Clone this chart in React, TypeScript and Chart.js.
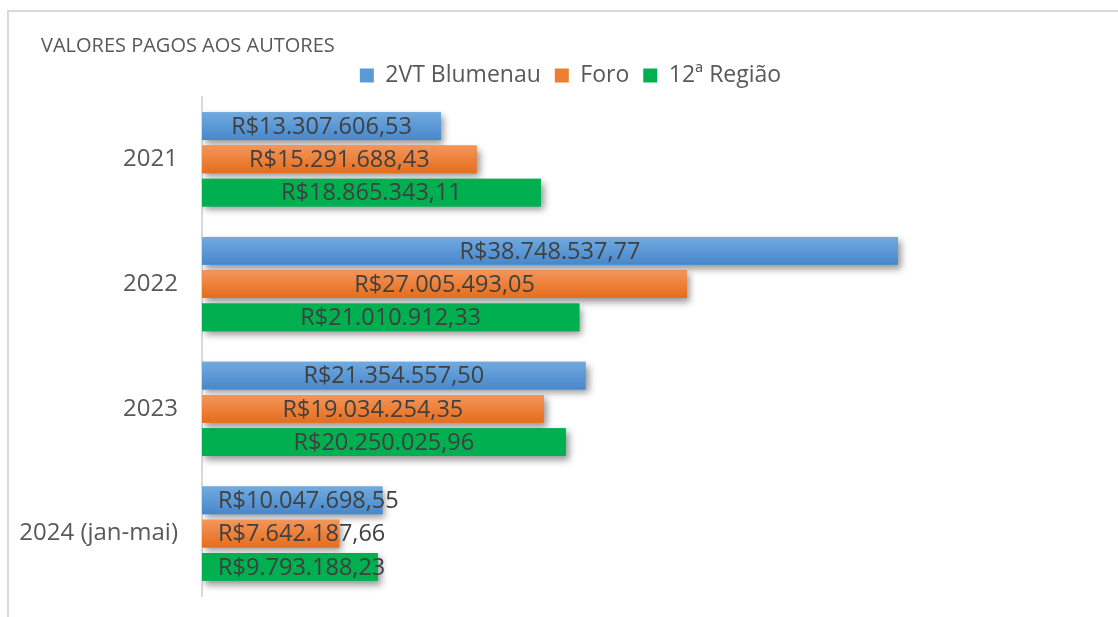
import React, { useEffect, useRef } from "react";
import { Chart, registerables } from "chart.js";

Chart.register(...registerables);

const titleText = "VALORES PAGOS AOS AUTORES";
const categories = ["2021", "2022", "2023", "2024 (jan-mai)"];
const seriesNames = ["2VT Blumenau", "Foro", "12ª Região"];
const blumenau = [13307606.53, 38748537.77, 21354557.5, 10047698.55];
const foro = [15291688.43, 27005493.05, 19034254.35, 7642187.66];
const regiao = [18865343.11, 21010912.33, 20250025.96, 9793188.23];
const baseColors = ["#5b9bd5", "#ed7d31", "#00b050"];
const gradTop = ["#70aae0", "#f4955a", "#00b050"];
const gradBottom = ["#4887cb", "#e66d1b", "#00b050"];
const xMax = 50000000;
const FONT = "'Open Sans', 'Noto Sans', sans-serif";

function fmtBRL(v: number): string {
  const fixed = v.toFixed(2);
  const [intPart, dec] = fixed.split(".");
  const withDots = intPart.replace(/\B(?=(\d{3})+(?!\d))/g, ".");
  return "R$" + withDots + "," + dec;
}

const unclipLabels = {
  id: "unclipLabels",
  afterLayout(chart: any) {
    const y = chart.scales.y;
    if (y) y.left = 0;
  },
};

const barStyle = {
  id: "barStyle",
  beforeDatasetsDraw(chart: any) {
    const ctx = chart.ctx;
    ctx.save();
    ctx.shadowColor = "rgba(0,0,0,0.42)";
    ctx.shadowBlur = 7;
    ctx.shadowOffsetX = 3;
    ctx.shadowOffsetY = 4;
  },
  afterDatasetsDraw(chart: any) {
    const ctx = chart.ctx;
    ctx.restore();
    chart.data.datasets.forEach((ds: any, di: number) => {
      const meta = chart.getDatasetMeta(di);
      meta.data.forEach((el: any) => {
        const { x, y, base, height } = el.getProps(["x", "y", "base", "height"], true);
        const top = y - height / 2;
        const g = ctx.createLinearGradient(0, top, 0, top + height);
        g.addColorStop(0, gradTop[di]);
        g.addColorStop(1, gradBottom[di]);
        ctx.fillStyle = g;
        ctx.fillRect(base, top, x - base, height);
      });
    });
    ctx.save();
    ctx.font = "23.5px " + FONT;
    ctx.fillStyle = "#404040";
    ctx.textBaseline = "middle";
    ctx.textAlign = "center";
    chart.data.datasets.forEach((ds: any, di: number) => {
      const meta = chart.getDatasetMeta(di);
      meta.data.forEach((el: any, i: number) => {
        const { x, y, base } = el.getProps(["x", "y", "base"], true);
        const text = fmtBRL(ds.data[i]);
        const w = ctx.measureText(text).width;
        const cx = Math.max((base + x) / 2, base + 16 + w / 2);
        ctx.fillText(text, cx, y + 1);
      });
    });
    ctx.restore();
  },
};

export default function App() {
  const ref = useRef<HTMLCanvasElement | null>(null);

  useEffect(() => {
    if (!ref.current) return;
    const chart = new Chart(ref.current, {
      type: "bar",
      data: {
        labels: categories,
        datasets: [
          { label: seriesNames[0], data: blumenau, backgroundColor: baseColors[0], borderWidth: 0 },
          { label: seriesNames[1], data: foro, backgroundColor: baseColors[1], borderWidth: 0 },
          { label: seriesNames[2], data: regiao, backgroundColor: baseColors[2], borderWidth: 0 },
        ],
      },
      options: {
        indexAxis: "y",
        responsive: false,
        animation: false,
        devicePixelRatio: 1,
        datasets: {
          bar: { categoryPercentage: 0.8, barPercentage: 0.83 },
        },
        layout: { autoPadding: false, padding: { left: 41, right: 18, top: 0, bottom: 21 } },
        scales: {
          x: {
            display: false,
            min: 0,
            max: xMax,
          },
          y: {
            grid: { display: false, drawTicks: false },
            border: { display: true, color: "#d9d9d9", width: 2 },
            ticks: {
              color: "#595959",
              padding: 24,
              font: { family: FONT, size: 24 },
            },
            afterFit: (scale: any) => {
              scale.width = 161;
              scale.paddingTop = 0;
              scale.paddingBottom = 0;
            },
          },
        },
        plugins: {
          title: {
            display: true,
            text: titleText,
            align: "start",
            color: "#595959",
            font: { family: FONT, size: 20, weight: "normal", lineHeight: 0.4 },
            padding: { top: 42, bottom: 0 },
          },
          legend: {
            display: true,
            position: "top",
            labels: {
              boxWidth: 14,
              boxHeight: 14,
              padding: 14,
              color: "#595959",
              font: { family: FONT, size: 23 },
            },
          },
          tooltip: { enabled: false },
        },
      },
      plugins: [unclipLabels, barStyle],
    } as any);
    return () => chart.destroy();
  }, []);

  return (
    <div
      style={{
        position: "fixed",
        left: 0,
        top: 0,
        width: 1118,
        height: 617,
        overflow: "hidden",
        background: "#ffffff",
      }}
    >
      <div
        style={{
          position: "absolute",
          left: 7,
          top: 10,
          width: 1300,
          height: 800,
          border: "2px solid #d9d9d9",
          background: "#ffffff",
        }}
      />
      <canvas
        ref={ref}
        width={1118}
        height={617}
        style={{ position: "absolute", left: 0, top: 0, width: 1118, height: 617 }}
      />
    </div>
  );
}
